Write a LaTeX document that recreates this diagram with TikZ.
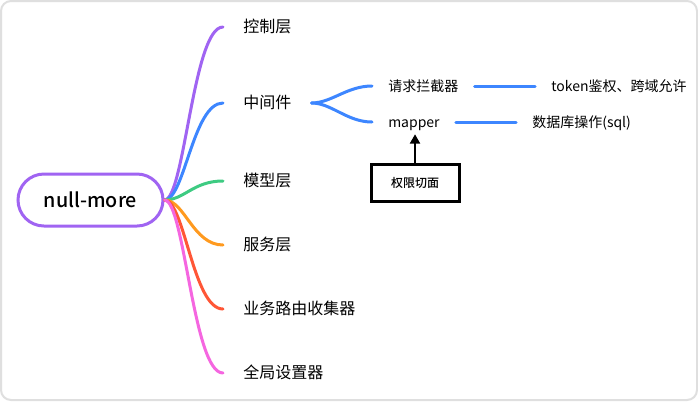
\documentclass[tikz,border=0pt]{standalone}
\usepackage{fontspec}
\setmainfont{Noto Sans CJK SC}
\newfontfamily\mediumfont{Noto Sans CJK SC Medium}
\usetikzlibrary{arrows.meta}
\tikzset{>={Triangle[length=7pt,width=7.5pt]}}
\definecolor{mmpurple}{HTML}{A064F2}
\definecolor{mmblue}{HTML}{3D86FF}
\definecolor{mmgreen}{HTML}{3ECB82}
\definecolor{mmorange}{HTML}{FF9A1F}
\definecolor{mmred}{HTML}{FF5636}
\definecolor{mmpink}{HTML}{F566E0}
\tikzset{
  root/.style={draw=mmpurple, line width=2.25pt, rounded corners=19.5pt,
    minimum width=108.75pt, minimum height=39pt, fill=white,
    font=\fontsize{14.8}{18}\selectfont\mediumfont},
  topic/.style={anchor=west, inner xsep=15pt, inner ysep=0pt,
    text height=0.9em, text depth=0.1em, font=\fontsize{12}{14}\selectfont},
  subtopic/.style={anchor=west, inner xsep=12pt, inner ysep=0pt,
    text height=0.9em, text depth=0.1em, font=\fontsize{10.5}{12}\selectfont},
  branch/.style={line width=2.25pt, line cap=round},
  permbox/.style={draw, line width=2.25pt, minimum width=66pt,
    minimum height=28pt, font=\fontsize{9}{11}\selectfont\mediumfont},
}

\begin{document}
\begin{tikzpicture}[x=0.75pt,y=-0.75pt]
\useasboundingbox (0,0) rectangle (698,401);
\draw[gray!25, fill=white, line width=1.5pt, rounded corners=7.5pt] (1,1) rectangle (697,400);

\node[root] (root) at (90.5,200) {null-more};
\foreach \n/\y/\c/\t in {ctrl/27/mmpurple/控制层, mid/103/mmblue/中间件,
    model/181/mmgreen/模型层, service/245/mmorange/服务层,
    router/309/mmred/业务路由收集器, setting/373/mmpink/全局设置器}
{
  \node[topic] (\n) at (223,\y) {\t};
  \draw[branch,\c] (root.east) .. controls +(20,0) and +(-30,0) .. (\n.west);
}

\node[subtopic] (req) at (372,86) {请求拦截器};
\node[subtopic] (mapper) at (372,122) {mapper};
\node[subtopic] (token) at (535,86) {token鉴权、跨域允许};
\node[subtopic] (sql) at (516,122) {数据库操作(sql)};
\draw[branch,mmblue] (mid.east) .. controls +(20,0) and +(-25,0) .. (req.west);
\draw[branch,mmblue] (mid.east) .. controls +(20,0) and +(-25,0) .. (mapper.west);
\draw[branch,mmblue] (req.east) -- (token.west);
\draw[branch,mmblue] (mapper.east) -- (sql.west);

\node[permbox] (perm) at (415,183) {权限切面};
\draw[line width=1.5pt,->,shorten >=4pt] (perm.north) -- (perm.north |- mapper.south);
\end{tikzpicture}
\end{document}
